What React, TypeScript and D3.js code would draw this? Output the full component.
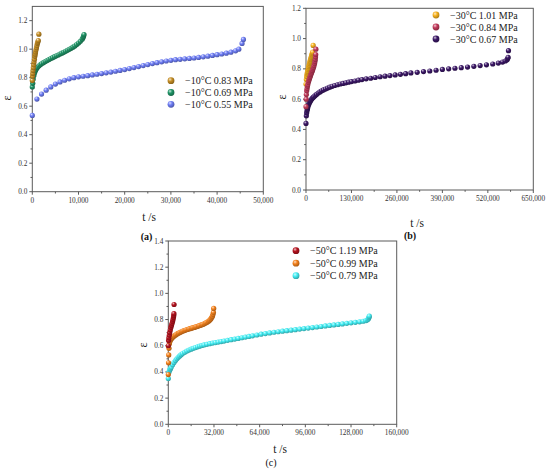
import React from "react";
import * as d3 from "d3";

// ---------- Data (t in s, strain ε) ----------
const a083: [number, number][] = [
  [0, 0.78], [50, 0.81], [100, 0.83], [150, 0.85], [220, 0.87], [300, 0.89], [380, 0.91], [460, 0.93],
  [540, 0.95], [620, 0.965], [700, 0.98], [800, 0.995], [900, 1.01], [1000, 1.025], [1100, 1.04],
  [1200, 1.05], [1300, 1.06], [1420, 1.105],
];
const a069: [number, number][] = [
  [0, 0.735], [100, 0.76], [200, 0.79], [350, 0.815], [500, 0.835], [700, 0.85], [900, 0.862], [1100, 0.872],
  [1400, 0.882], [1700, 0.89], [2000, 0.897], [2400, 0.905], [2800, 0.913], [3200, 0.92], [3600, 0.927],
  [4000, 0.934], [4400, 0.94], [4800, 0.947], [5200, 0.953], [5600, 0.959], [6000, 0.966], [6400, 0.972],
  [6800, 0.978], [7200, 0.985], [7600, 0.992], [8000, 0.999], [8400, 1.006], [8800, 1.014], [9200, 1.022],
  [9600, 1.032], [10000, 1.043], [10400, 1.055], [10800, 1.07], [11000, 1.082], [11100, 1.092], [11200, 1.102],
];
const a055: [number, number][] = [
  [0, 0.535], [1000, 0.65], [2000, 0.685], [3000, 0.712], [4000, 0.735], [5000, 0.755], [6000, 0.77],
  [7000, 0.782], [8000, 0.792], [9000, 0.8], [10000, 0.806], [11000, 0.81], [12000, 0.814], [13000, 0.819],
  [14000, 0.824], [15000, 0.829], [16000, 0.834], [17000, 0.839], [18000, 0.845], [19000, 0.851],
  [20000, 0.857], [21000, 0.864], [22000, 0.871], [23000, 0.878], [24000, 0.885], [25000, 0.892],
  [26000, 0.899], [27000, 0.905], [28000, 0.911], [29000, 0.917], [30000, 0.922], [31000, 0.926],
  [32000, 0.929], [33000, 0.932], [34000, 0.935], [35000, 0.938], [36000, 0.942], [37000, 0.946],
  [38000, 0.951], [39000, 0.956], [40000, 0.961], [41000, 0.966], [42000, 0.972], [43000, 0.979],
  [44000, 0.988], [44700, 1.0], [45400, 1.04], [45700, 1.068],
];

const b101: [number, number][] = [
  [0, 0.7], [1000, 0.73], [2000, 0.75], [3000, 0.765], [4000, 0.775], [5000, 0.785], [6000, 0.795],
  [7000, 0.805], [8000, 0.815], [9000, 0.825], [10000, 0.835], [11000, 0.845], [12000, 0.853],
  [13000, 0.862], [14000, 0.87], [15000, 0.878], [16000, 0.886], [17000, 0.894], [18000, 0.902],
  [19000, 0.91], [20500, 0.955],
];
const b084: [number, number][] = [
  [0, 0.55], [500, 0.6], [1000, 0.63], [2000, 0.655], [3000, 0.67], [4000, 0.685], [5000, 0.695],
  [6500, 0.71], [8000, 0.722], [9500, 0.733], [11000, 0.743], [12500, 0.753], [14000, 0.763],
  [15500, 0.772], [17000, 0.781], [18500, 0.79], [20000, 0.8], [21500, 0.81], [23000, 0.822],
  [24500, 0.835], [25500, 0.848], [26500, 0.862], [27200, 0.878], [27800, 0.895], [28300, 0.93],
];
const b067: [number, number][] = [
  [0, 0.44], [1000, 0.49], [2000, 0.51], [3000, 0.525], [4000, 0.535], [5000, 0.545], [7000, 0.56],
  [9000, 0.572], [11000, 0.582], [13000, 0.59], [16000, 0.6], [19000, 0.608], [22000, 0.615],
  [26000, 0.623], [30000, 0.631], [35000, 0.64], [40000, 0.648], [45000, 0.655], [50000, 0.661],
  [56000, 0.667], [62000, 0.673], [68000, 0.679], [75000, 0.685], [82000, 0.69], [90000, 0.695],
  [98000, 0.7], [106000, 0.704], [114000, 0.708], [122000, 0.712], [130000, 0.716], [140000, 0.72],
  [150000, 0.725], [160000, 0.729], [172000, 0.734], [185000, 0.738], [198000, 0.743], [212000, 0.748],
  [226000, 0.752], [240000, 0.756], [255000, 0.76], [270000, 0.764], [285000, 0.768], [300000, 0.773],
  [318000, 0.777], [336000, 0.782], [354000, 0.786], [372000, 0.791], [390000, 0.796], [408000, 0.8],
  [426000, 0.804], [444000, 0.808], [462000, 0.812], [480000, 0.817], [498000, 0.822], [516000, 0.827],
  [534000, 0.832], [550000, 0.838], [562000, 0.845], [570000, 0.852], [575000, 0.86], [577000, 0.868],
  [578000, 0.876], [579000, 0.92],
];

const c119: [number, number][] = [
  [0, 0.6], [200, 0.64], [400, 0.66], [700, 0.68], [1000, 0.7], [1400, 0.72], [1800, 0.74], [2200, 0.755],
  [2600, 0.77], [3000, 0.785], [3300, 0.8], [3600, 0.815], [3800, 0.83], [3950, 0.845], [4050, 0.915],
];
const c099: [number, number][] = [
  [0, 0.38], [150, 0.47], [300, 0.53], [500, 0.58], [800, 0.615], [1200, 0.635], [1800, 0.648],
  [2500, 0.658], [3300, 0.667], [4200, 0.675], [5200, 0.683], [6200, 0.69], [7200, 0.696], [8200, 0.702],
  [9200, 0.707], [10200, 0.712], [11200, 0.716], [12200, 0.72], [13200, 0.724], [14200, 0.727],
  [15200, 0.73], [16200, 0.734], [17200, 0.737], [18200, 0.74], [19200, 0.744], [20200, 0.747],
  [21200, 0.751], [22200, 0.755], [23200, 0.759], [24200, 0.763], [25200, 0.768], [26200, 0.774],
  [27200, 0.78], [28200, 0.787], [29000, 0.795], [29800, 0.805], [30400, 0.815], [30900, 0.826],
  [31300, 0.84], [31600, 0.855], [31800, 0.885],
];
const c079: [number, number][] = [
  [0, 0.35], [500, 0.4], [1000, 0.415], [1500, 0.425], [2000, 0.435], [3000, 0.455], [4000, 0.472],
  [5000, 0.487], [6000, 0.5], [7000, 0.512], [8000, 0.522], [9000, 0.532], [10000, 0.54], [11500, 0.55],
  [13000, 0.559], [14500, 0.567], [16000, 0.574], [17500, 0.58], [19000, 0.586], [20500, 0.592],
  [22000, 0.597], [23500, 0.602], [25000, 0.606], [27000, 0.611], [29000, 0.616], [31000, 0.62],
  [33000, 0.624], [35000, 0.628], [37000, 0.632], [39000, 0.636], [41500, 0.641], [44000, 0.646],
  [46500, 0.651], [49000, 0.656], [51500, 0.661], [54000, 0.666], [56500, 0.671], [59000, 0.676],
  [62000, 0.682], [65000, 0.688], [68000, 0.693], [71000, 0.698], [74000, 0.703], [77000, 0.707],
  [80000, 0.711], [83000, 0.715], [86000, 0.719], [89000, 0.723], [92000, 0.727], [95000, 0.731],
  [98000, 0.735], [101000, 0.739], [104000, 0.743], [107000, 0.747], [110000, 0.751], [113000, 0.755],
  [116000, 0.759], [119000, 0.763], [122000, 0.767], [125000, 0.771], [128000, 0.775], [131000, 0.779],
  [134000, 0.783], [136500, 0.787], [138500, 0.792], [139500, 0.798], [140200, 0.806], [140600, 0.816],
  [140800, 0.826],
];

const legendA = ["\u221210\u00b0C 0.83 MPa", "\u221210\u00b0C 0.69 MPa", "\u221210\u00b0C 0.55 MPa"];
const legendB = ["\u221230\u00b0C 1.01 MPa", "\u221230\u00b0C 0.84 MPa", "\u221230\u00b0C 0.67 MPa"];
const legendC = ["\u221250\u00b0C 1.19 MPa", "\u221250\u00b0C 0.99 MPa", "\u221250\u00b0C 0.79 MPa"];

const xTicksA = [0, 10000, 20000, 30000, 40000, 50000];
const xTicksB = [0, 130000, 260000, 390000, 520000, 650000];
const xTicksC = [0, 32000, 64000, 96000, 128000, 160000];
const yTicksA = [0, 0.2, 0.4, 0.6, 0.8, 1.0, 1.2];
const yTicksB = [0, 0.2, 0.4, 0.6, 0.8, 1.0, 1.2];
const yTicksC = [0, 0.2, 0.4, 0.6, 0.8, 1.0, 1.2, 1.4];

const colorsA = ["#c58d23", "#1f9567", "#6e7df5"];
const colorsB = ["#f7b21f", "#c33a5c", "#3b1766"];
const colorsC = ["#b5121e", "#f5821c", "#44eef4"];

const FONT = "'Liberation Serif', 'Times New Roman', Times, serif";
const AXIS = "#5a5a5a";
const TXT = "#333";

type PanelProps = {
  id: string;
  box: { l: number; r: number; t: number; b: number };
  xMax: number;
  yMax: number;
  xTicks: number[];
  yTicks: number[];
  series: [number, number][][];
  colors: string[];
  legend: string[];
  legendPos: { x: number; y: number; dy: number };
  drawOrder: number[];
  yLabelPos: { x: number; y: number };
  xLabelPos: { x: number; y: number };
  tagPos: { x: number; y: number };
  tag: string;
  tagBold: boolean;
};

function Panel(p: PanelProps) {
  const x = d3.scaleLinear().domain([0, p.xMax]).range([p.box.l, p.box.r]);
  const y = d3.scaleLinear().domain([0, p.yMax]).range([p.box.b, p.box.t]);
  const fx = d3.format(",");
  const fy = d3.format(".1f");
  const xStep = p.xTicks[1] - p.xTicks[0];
  const yStep = p.yTicks[1] - p.yTicks[0];
  const xMinor = p.xTicks.slice(0, -1).map((v) => v + xStep / 2);
  const yMinor = p.yTicks.map((v) => v + yStep / 2).filter((v) => v < p.yMax);
  return (
    <g>
      <defs>
        {p.colors.map((c, i) => {
          const light = d3.interpolateRgb(c, "#ffffff")(0.75);
          const dark = d3.interpolateRgb(c, "#000000")(0.3);
          return (
            <radialGradient key={i} id={`${p.id}g${i}`} cx="38%" cy="35%" r="65%" fx="35%" fy="30%">
              <stop offset="0%" stopColor={light} />
              <stop offset="45%" stopColor={c} />
              <stop offset="100%" stopColor={dark} />
            </radialGradient>
          );
        })}
      </defs>
      <rect x={p.box.l} y={p.box.t} width={p.box.r - p.box.l} height={p.box.b - p.box.t}
        fill="none" stroke={AXIS} strokeWidth={1} />
      {p.xTicks.map((v) => (
        <g key={"xt" + v}>
          <line x1={x(v)} x2={x(v)} y1={p.box.b} y2={p.box.b + 3} stroke={AXIS} />
          <text x={x(v)} y={p.box.b + 11} textAnchor="middle" fontSize={7.3} fontFamily={FONT} fill={TXT}>
            {fx(v)}
          </text>
        </g>
      ))}
      {xMinor.map((v) => (
        <line key={"xm" + v} x1={x(v)} x2={x(v)} y1={p.box.b} y2={p.box.b + 1.8} stroke={AXIS} />
      ))}
      {p.yTicks.map((v) => (
        <g key={"yt" + v}>
          <line x1={p.box.l - 3} x2={p.box.l} y1={y(v)} y2={y(v)} stroke={AXIS} />
          <text x={p.box.l - 5} y={y(v) + 2.5} textAnchor="end" fontSize={7.3} fontFamily={FONT} fill={TXT}>
            {fy(v)}
          </text>
        </g>
      ))}
      {yMinor.map((v) => (
        <line key={"ym" + v} x1={p.box.l - 1.8} x2={p.box.l} y1={y(v)} y2={y(v)} stroke={AXIS} />
      ))}
      {p.drawOrder.map((si) => (
        <g key={"s" + si}>
          {p.series[si].map((d, j) => (
            <circle key={j} cx={x(d[0])} cy={y(d[1])} r={2.6} fill={`url(#${p.id}g${si})`} />
          ))}
        </g>
      ))}
      {p.legend.map((t, i) => (
        <g key={"lg" + i}>
          <circle cx={p.legendPos.x} cy={p.legendPos.y + i * p.legendPos.dy} r={3.4} fill={`url(#${p.id}g${i})`} />
          <text x={p.legendPos.x + 14} y={p.legendPos.y + i * p.legendPos.dy + 3.5} fontSize={10}
            fontFamily={FONT} fill="#222">
            {t}
          </text>
        </g>
      ))}
      <text transform={`translate(${p.yLabelPos.x},${p.yLabelPos.y}) rotate(-90)`} textAnchor="middle"
        fontSize={12} fontFamily={FONT} fill="#222">
        ε
      </text>
      <text x={p.xLabelPos.x} y={p.xLabelPos.y} textAnchor="middle" fontSize={11.5} fontFamily={FONT} fill="#222">
        t /s
      </text>
      <text x={p.tagPos.x} y={p.tagPos.y} textAnchor="middle" fontSize={10} fontFamily={FONT}
        fontWeight={p.tagBold ? "bold" : "normal"} fill="#111">
        {p.tag}
      </text>
    </g>
  );
}

export default function App() {
  return (
    <div style={{ position: "absolute", left: 0, top: 0 }}>
      <svg width={550} height={474} viewBox="0 0 550 474" style={{ display: "block", background: "#fff" }}>
        <Panel id="pa" box={{ l: 32.3, r: 263.3, t: 6.4, b: 191.7 }} xMax={50000} yMax={1.3}
          xTicks={xTicksA} yTicks={yTicksA} series={[a083, a069, a055]} colors={colorsA} legend={legendA}
          legendPos={{ x: 171, y: 80.7, dy: 11.8 }} drawOrder={[2, 1, 0]}
          yLabelPos={{ x: 11, y: 98 }} xLabelPos={{ x: 149, y: 221 }} tagPos={{ x: 146.5, y: 239.5 }} tag="(a)" tagBold={true} />
        <Panel id="pb" box={{ l: 306, r: 533.3, t: 8.3, b: 190 }} xMax={650000} yMax={1.2}
          xTicks={xTicksB} yTicks={yTicksB} series={[b101, b084, b067]} colors={colorsB} legend={legendB}
          legendPos={{ x: 436, y: 15, dy: 12 }} drawOrder={[2, 0, 1]}
          yLabelPos={{ x: 286, y: 97 }} xLabelPos={{ x: 417, y: 226.5 }} tagPos={{ x: 410, y: 239 }} tag="(b)" tagBold={true} />
        <Panel id="pc" box={{ l: 168.3, r: 396.7, t: 241, b: 424.3 }} xMax={160000} yMax={1.4}
          xTicks={xTicksC} yTicks={yTicksC} series={[c119, c099, c079]} colors={colorsC} legend={legendC}
          legendPos={{ x: 296, y: 250.7, dy: 12.5 }} drawOrder={[2, 1, 0]}
          yLabelPos={{ x: 146.5, y: 345 }} xLabelPos={{ x: 280, y: 453 }} tagPos={{ x: 271, y: 466 }} tag="(c)" tagBold={false} />
      </svg>
    </div>
  );
}
